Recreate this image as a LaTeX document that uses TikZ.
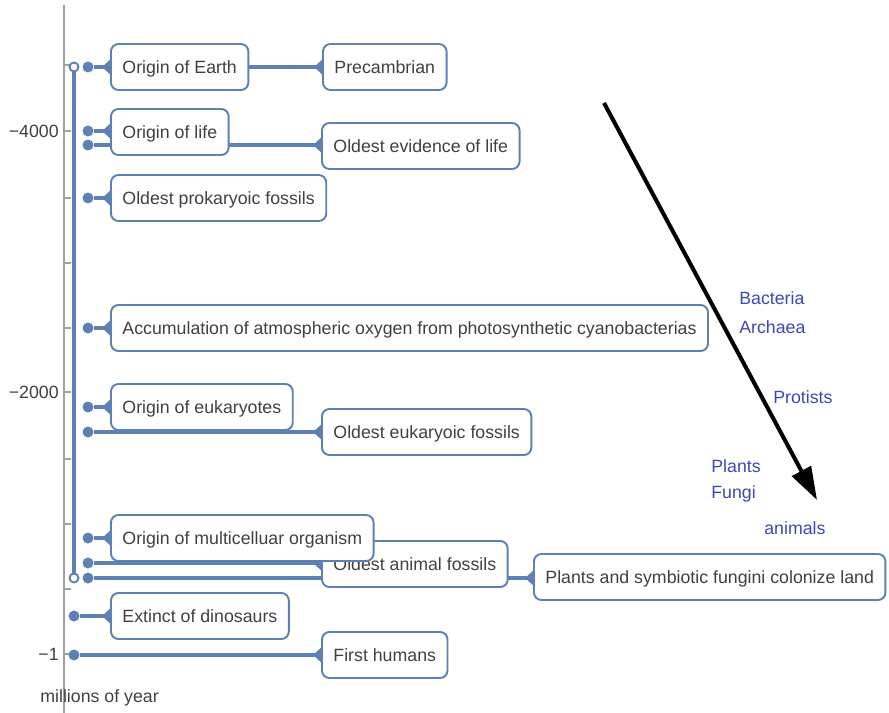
\documentclass[tikz,border=0pt]{standalone}
\usepackage{fontspec}
\setmainfont{Liberation Sans}
\usetikzlibrary{arrows.meta,positioning,backgrounds}
\definecolor{lineblue}{RGB}{94,129,181}
\definecolor{tagblue}{RGB}{62,70,184}
\definecolor{boxtext}{RGB}{64,64,64}
\definecolor{axisgray}{RGB}{160,160,160}
\tikzset{
  event/.style={draw=lineblue, line width=1.1pt, fill=white, rounded corners=0.15cm,
    anchor=west, minimum height=0.92cm, inner xsep=0.23cm, text=boxtext,
    text height=0.72em, text depth=0pt},
  dot/.style={circle, fill=lineblue, inner sep=0pt, minimum size=0.22cm},
  hollow/.style={circle, draw=lineblue, fill=white, line width=1.1pt, inner sep=0pt, minimum size=0.18cm},
  link/.style={lineblue, line width=1.9pt, -{Triangle[reversed,length=0.16cm,width=0.28cm]}},
  tag/.style={anchor=west, text=tagblue, inner sep=0pt},
}

\begin{document}
\begin{tikzpicture}[x=0.02cm, y=-0.02cm, font=\fontsize{10.1}{12.2}\selectfont]
\useasboundingbox (0,0) rectangle (889,713);

% Axis
\draw[axisgray, line width=0.6pt] (64,5) -- (64,713);
\foreach \yy in {65,131,198,263,328,392,459,524,589,654}
  \draw[axisgray, line width=0.6pt] (64,\yy) -- (71,\yy);
\node[anchor=east, text=boxtext, inner sep=0pt] (t4000) at (59,131) {−4000};
\node[anchor=east, text=boxtext, inner sep=0pt] (t2000) at (59,392) {−2000};
\node[anchor=east, text=boxtext, inner sep=0pt] (t1) at (59,654) {−1};
\node[anchor=west, text=boxtext, inner sep=0pt] (unit) at (40,698) {millions of year};

% Timeline ends
\node[hollow] (top) at (74,67) {};
\node[hollow] (bottom) at (74,578) {};

% Dots
\node[dot] (d1) at (88,67) {};
\node[dot] (d2) at (88,131) {};
\node[dot] (d3) at (88,145) {};
\node[dot] (d4) at (88,198) {};
\node[dot] (d5) at (88,328) {};
\node[dot] (d6) at (88,407) {};
\node[dot] (d7) at (88,432) {};
\node[dot] (d8) at (88,538) {};
\node[dot] (d9) at (88,563) {};
\node[dot] (d10) at (88,578) {};
\node[dot] (d11) at (74,616) {};
\node[dot] (d12) at (74,655) {};

% Events
\node[event] (earth) at (110,67) {Origin of Earth};
\node[event] (precambrian) at (322,67) {Precambrian};
\node[event] (evidence) at (321,146) {Oldest evidence of life};
\node[event] (life) at (110,132) {Origin of life};
\node[event] (prokaryotes) at (110,198) {Oldest prokaryoic fossils};
\node[event] (oxygen) at (110,328) {Accumulation of atmospheric oxygen from photosynthetic cyanobacterias};
\node[event] (eukfossils) at (321,432) {Oldest eukaryoic fossils};
\node[event] (eukaryotes) at (110,407) {Origin of eukaryotes};
\node[event] (animals) at (321,564) {Oldest animal fossils};
\node[event] (multi) at (110,538) {Origin of multicelluar organism};
\node[event] (land) at (533,577) {Plants and symbiotic fungini colonize land};
\node[event] (dinosaurs) at (110,616) {Extinct of dinosaurs};
\node[event] (humans) at (321,655) {First humans};

% Connectors
\begin{scope}[on background layer]
\draw[lineblue, line width=1.9pt] (top) -- (bottom);
\draw[link] (d1) -- (earth.west);
\draw[link] (earth.east) -- (precambrian.west);
\draw[link] (d2) -- (d2 -| life.west);
\draw[link] (d3) -- (d3 -| evidence.west);
\draw[link] (d4) -- (prokaryotes.west);
\draw[link] (d5) -- (oxygen.west);
\draw[link] (d6) -- (eukaryotes.west);
\draw[link] (d7) -- (eukfossils.west);
\draw[link] (d8) -- (multi.west);
\draw[link] (d9) -- (d9 -| animals.west);
\draw[link] (d10) -- (d10 -| land.west);
\draw[link] (d11) -- (dinosaurs.west);
\draw[link] (d12) -- (humans.west);
\end{scope}

% Arrow
\coordinate (arrowstart) at (604,103);
\coordinate (arrowend) at (817,500);
\draw[line width=2.3pt, -{Triangle[length=0.66cm,width=0.42cm]}] (arrowstart) -- (arrowend);

% Groups
\node[tag] (bacteria) at (739,298) {Bacteria};
\node[tag] (archaea) at (739,327) {Archaea};
\node[tag] (protists) at (773,397) {Protists};
\node[tag] (plants) at (711,466) {Plants};
\node[tag] (fungi) at (711,494) {Fungi};
\node[tag] (metazoa) at (764,528) {animals};
\end{tikzpicture}
\end{document}
